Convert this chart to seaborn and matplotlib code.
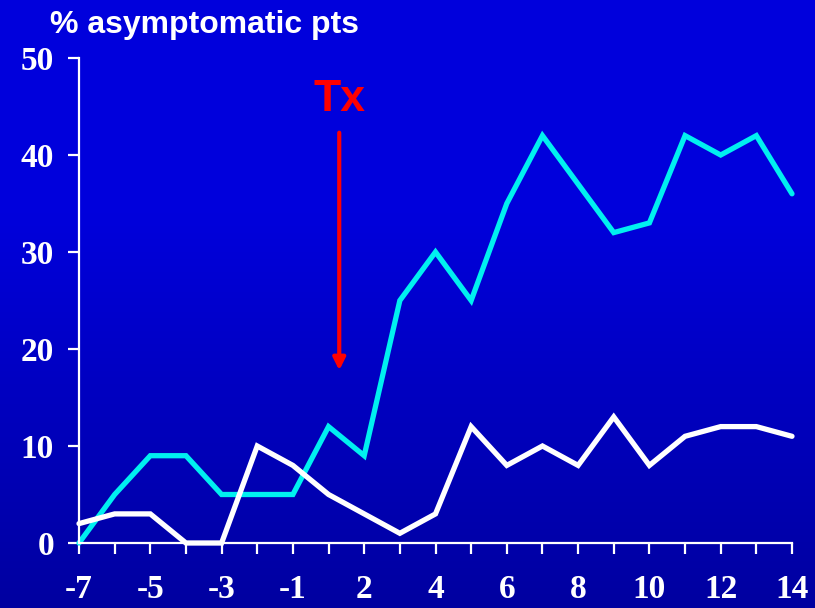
import numpy as np
import pandas as pd
import matplotlib
matplotlib.use("Agg")
import matplotlib.pyplot as plt
import seaborn as sns

# Months relative to treatment (there is no month 0)
months = [-7, -6, -5, -4, -3, -2, -1, 1, 2, 3, 4, 5, 6, 7, 8, 9, 10, 11, 12, 13, 14]
treated = [0, 5, 9, 9, 5, 5, 5, 12, 9, 25, 30, 25, 35, 42, 37, 32, 33, 42, 40, 42, 36]
control = [2, 3, 3, 0, 0, 10, 8, 5, 3, 1, 3, 12, 8, 10, 8, 13, 8, 11, 12, 12, 11]
shown_months = [-7, -5, -3, -1, 2, 4, 6, 8, 10, 12, 14]
y_ticks = [0, 10, 20, 30, 40, 50]
tx_position = 7.3  # between month -1 and month 2
tx_top, tx_bottom = 42.3, 17.8

pos = np.arange(len(months))
df = pd.DataFrame({
    "pos": np.concatenate([pos, pos]),
    "pct": treated + control,
    "group": ["treated"] * len(months) + ["control"] * len(months),
})

sns.set_style("white")
plt.rcParams["font.family"] = ["DejaVu Sans"]

fig = plt.figure(figsize=(8.15, 6.08), dpi=100)

# Blue gradient backdrop
bg = fig.add_axes([0, 0, 1, 1], zorder=-10)
h = 608
t = np.linspace(0, 1, h)
ramp = np.clip((t - 0.35) / 0.65, 0, 1)
top = np.array([0, 0, 220]) / 255
bottom = np.array([0, 0, 160]) / 255
cols = top[None, :] * (1 - ramp[:, None]) + bottom[None, :] * ramp[:, None]
img = np.repeat(cols[:, None, :], 4, axis=1)
bg.imshow(img, aspect="auto", extent=[0, 1, 0, 1])
bg.axis("off")

ax = fig.add_axes([79 / 815, 65 / 608, (792 - 79) / 815, (543 - 58) / 608])
ax.patch.set_alpha(0)

sns.lineplot(data=df, x="pos", y="pct", hue="group",
             palette={"treated": "#00F0F0", "control": "#FFFFFF"},
             linewidth=3.8, legend=False, ax=ax)
for ln in ax.lines:
    ln.set_clip_on(False)
    ln.set_solid_joinstyle("miter")
    ln.set_solid_capstyle("round")

ax.set_xlim(0, len(months) - 1)
ax.set_ylim(0, 50)
ax.set_xlabel("")
ax.set_ylabel("")

ax.set_xticks(pos)
ax.set_xticklabels([str(m) if m in shown_months else "" for m in months])
ax.set_yticks(y_ticks)
ax.set_yticklabels([str(v) for v in y_ticks])

for side in ["top", "right"]:
    ax.spines[side].set_visible(False)
for side in ["left", "bottom"]:
    ax.spines[side].set_color("white")
    ax.spines[side].set_linewidth(1.6)

ax.tick_params(axis="both", bottom=True, left=True, colors="white",
               width=1.6, length=8, direction="out")
ax.tick_params(axis="x", pad=14)
ax.tick_params(axis="y", pad=10)
for lab in ax.get_xticklabels() + ax.get_yticklabels():
    lab.set_fontfamily("Liberation Serif")
    lab.set_fontweight("bold")
    lab.set_fontsize(24)
    lab.set_color("white")

# Treatment start marker
ax.annotate("", xy=(tx_position, tx_bottom), xytext=(tx_position, tx_top),
            arrowprops=dict(arrowstyle="-|>", color="#FF0000", lw=3,
                            mutation_scale=18, shrinkA=0, shrinkB=0))
ax.text(tx_position, 45.7, "Tx", color="#FF0000", fontsize=32,
        fontweight="bold", fontfamily="Liberation Sans",
        ha="center", va="center")

fig.text(50 / 815, 1 - 25 / 608, "% asymptomatic pts", color="white",
         fontsize=23, fontweight="bold", fontfamily="Liberation Sans",
         ha="left", va="center")

fig.savefig("out.png", dpi=100)
